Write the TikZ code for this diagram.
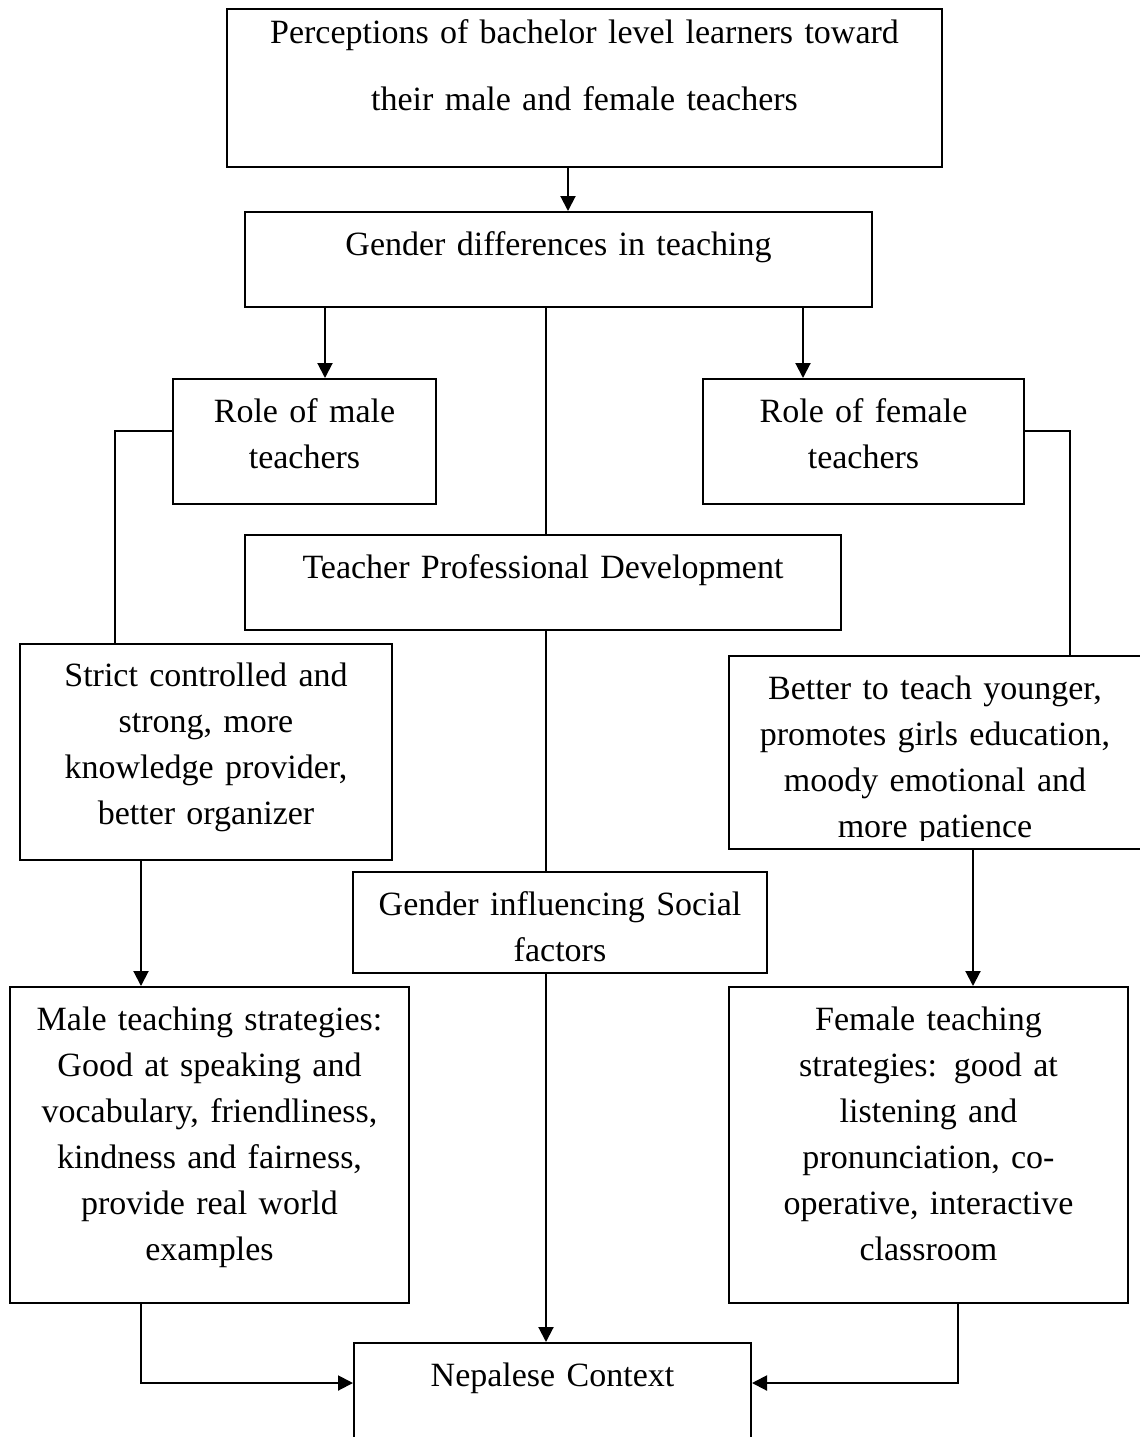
\documentclass[tikz,border=0pt]{standalone}
\usepackage{fontspec}
\setmainfont{Liberation Serif}
\usetikzlibrary{arrows.meta,calc}
\tikzset{
  bx/.style={draw, line width=1pt, inner sep=0pt, rectangle},
  txt/.style={anchor=north, inner sep=0pt, align=center, text width=340pt,
              font=\fontsize{17pt}{23pt}\selectfont},
  arr/.style={line width=1pt, -{Triangle[length=7.5pt,width=7.5pt]}},
  ln/.style={line width=1pt},
}
\newcommand\mybx[5]{\node[bx, minimum width={(#4-#2)*0.5pt}, minimum height={(#5-#3)*0.5pt}] (#1) at ({(#2+#4)/2},{(#3+#5)/2}) {};}
\newcommand\firstln{\rule{0pt}{20pt}}
\begin{document}
\begin{tikzpicture}[x=0.5pt,y=-0.5pt]
\useasboundingbox[fill=white] (0,0) rectangle (1140,1437);
% boxes
\mybx{top}{227}{9}{942}{167}
\mybx{gd}{245}{212}{872}{307}
\mybx{rm}{173}{379}{436}{504}
\mybx{rf}{703}{379}{1024}{504}
\mybx{tpd}{245}{535}{841}{630}
\mybx{strict}{20}{644}{392}{860}
\mybx{better}{729}{656}{1141}{849}
\mybx{gif}{353}{872}{767}{973}
\mybx{mts}{10}{987}{409}{1303}
\mybx{fts}{729}{987}{1128}{1303}
\mybx{nep}{354}{1343}{751}{1460}
% texts
\node[txt, font=\fontsize{17pt}{33.5pt}\selectfont] (tTop) at (584.5,3) {\firstln Perceptions of bachelor level learners toward\\their male and female teachers};
\node[txt] (tGd) at (558.5,215) {\firstln Gender differences in teaching};
\node[txt] (tRm) at (304.5,382) {\firstln Role of male\\teachers};
\node[txt] (tRf) at (863.5,382) {\firstln Role of female\\teachers};
\node[txt] (tTpd) at (543,538) {\firstln Teacher Professional Development};
\node[txt] (tStrict) at (206,646) {\firstln Strict controlled and\\strong, more\\knowledge provider,\\better organizer};
\begin{scope}
\clip (729,656) rectangle (1141,840);
\node[txt] (tBetter) at (935,659) {\firstln Better to teach younger,\\promotes girls education,\\moody emotional and\\more patience};
\end{scope}
\node[txt] (tGif) at (560,875) {\firstln Gender influencing Social\\factors};
\node[txt] (tMts) at (209.5,990) {\firstln Male teaching strategies:\\Good at speaking and\\vocabulary, friendliness,\\kindness and fairness,\\provide real world\\examples};
\node[txt] (tFts) at (928.5,990) {\firstln Female teaching\\strategies: good at\\listening and\\pronunciation, co-\\operative, interactive\\classroom};
\node[txt] (tNep) at (552.5,1346) {\firstln Nepalese Context};
% column coordinates
\coordinate (xA) at (568,0);
\coordinate (xL) at (325,0);
\coordinate (xC) at (546,0);
\coordinate (xR) at (803,0);
\coordinate (xLL) at (115,0);
\coordinate (xRR) at (1070,0);
\coordinate (xM) at (141,0);
\coordinate (xF) at (973,0);
\coordinate (xFb) at (958,0);
\coordinate (yRole) at (0,431);
\coordinate (yN) at (0,1383);
% connectors
\draw[arr] (top.south -| xA) -- (gd.north -| xA);
\draw[arr] (gd.south -| xL) -- (rm.north -| xL);
\draw[arr] (gd.south -| xR) -- (rf.north -| xR);
\draw[ln] (gd.south -| xC) -- (tpd.north -| xC);
\draw[ln] (tpd.south -| xC) -- (gif.north -| xC);
\draw[arr] (gif.south -| xC) -- (nep.north -| xC);
\draw[ln] (rm.west |- yRole) -| (strict.north -| xLL);
\draw[ln] (rf.east |- yRole) -| (better.north -| xRR);
\draw[arr] (strict.south -| xM) -- (mts.north -| xM);
\draw[arr] (better.south -| xF) -- (fts.north -| xF);
\draw[arr] (mts.south -| xM) |- (nep.west |- yN);
\draw[arr] (fts.south -| xFb) |- (nep.east |- yN);
\end{tikzpicture}
\end{document}
